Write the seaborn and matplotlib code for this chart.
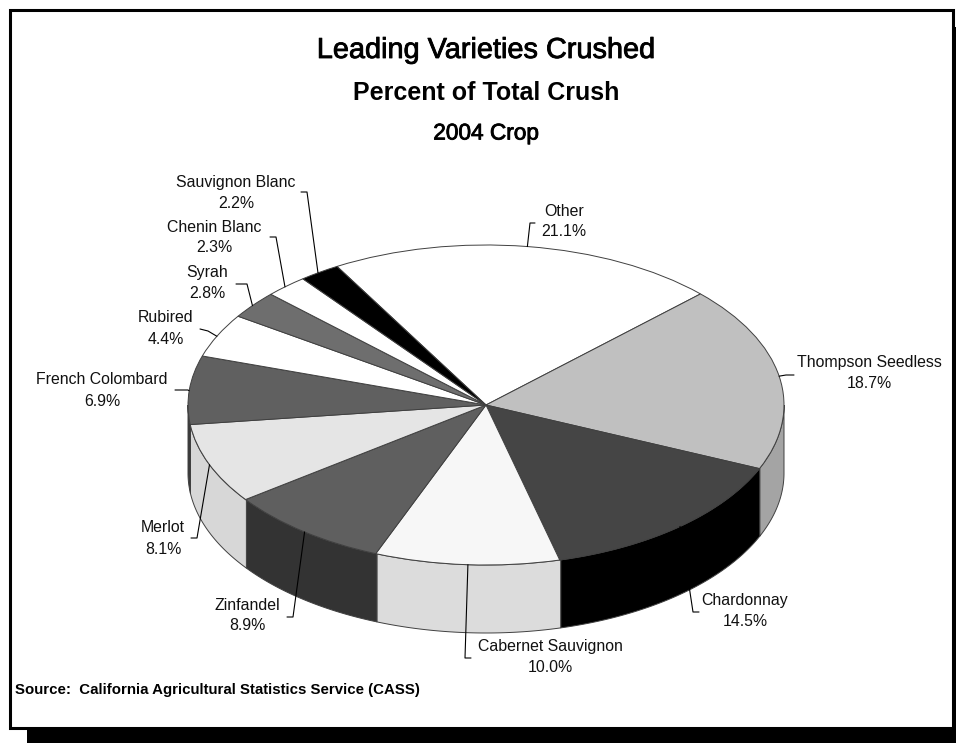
"""
Leading varieties crushed, 2004 crop - 3D-style pie chart
"""
import numpy as np
import matplotlib
matplotlib.use('Agg')
import matplotlib.pyplot as plt
import matplotlib.patheffects as pe
from matplotlib.patches import Rectangle, Polygon
import seaborn as sns

# data, in drawing order (clockwise from the top)
varieties = ['Other', 'Thompson Seedless', 'Chardonnay', 'Cabernet Sauvignon',
             'Zinfandel', 'Merlot', 'French Colombard', 'Rubired', 'Syrah',
             'Chenin Blanc', 'Sauvignon Blanc']
shares = [21.1, 18.7, 14.5, 10.0, 8.9, 8.1, 6.9, 4.4, 2.8, 2.3, 2.2]

# styles
top_colors = ['#ffffff', '#c0c0c0', '#454545', '#f7f7f7', '#5f5f5f', '#e5e5e5',
              '#606060', '#ffffff', '#6e6e6e', '#ffffff', '#000000']
side_colors = ['#dcdcdc', '#a4a4a4', '#000000', '#dcdcdc', '#333333', '#d7d7d7',
               '#3a3a3a', '#dcdcdc', '#4a4a4a', '#dcdcdc', '#000000']

# label layout in pixels: text centre (x, y of first line), leader elbow, leader end
label_pos = [(564, 211), (869, 363), (745, 600), (550, 647), (247, 605), (163, 528),
             (102, 380), (166, 318), (207, 273), (214, 227), (236, 182)]
leader_elbow = [(530, 223), (786, 375), (693, 612), (465, 658), (293, 617), (197, 538),
                (188, 390), (208, 331), (247, 284), (276, 237), (307, 192)]
leader_end = [(535, 223), (794, 375), (699, 612), (471, 658), (287, 617), (191, 538),
              (175, 390), (200, 329), (236, 284), (270, 237), (301, 192)]

W, H = 956, 743
CX, CY, RX, RY = 486, 405, 298, 160
DEPTH = 68 / RY
START = 120

sns.set_theme(style='white')
plt.rcParams['font.family'] = ['Liberation Sans', 'DejaVu Sans']
plt.rcParams['text.color'] = 'black'


def px(x, y):
    # pixel position -> pie data coords (unit radius ellipse)
    return (x - CX) / RX, (CY - y) / RY


fig = plt.figure(figsize=(W / 100, H / 100), dpi=100)
ax = fig.add_axes([0, 0, 1, 1])

# side walls of the front half
edges = START - np.cumsum([0] + shares) * 3.6
for i in range(len(shares)):
    hi = min(edges[i], 0)
    lo = max(edges[i + 1], -180)
    if hi <= lo:
        continue
    t = np.radians(np.linspace(hi, lo, 60))
    top = np.column_stack([np.cos(t), np.sin(t)])
    bot = np.column_stack([np.cos(t), np.sin(t) - DEPTH])[::-1]
    ax.add_patch(Polygon(np.vstack([top, bot]), closed=True, facecolor=side_colors[i],
                         edgecolor='#404040', linewidth=0.7, zorder=1))

# top face
wedges, _ = ax.pie(shares, startangle=START, counterclock=False, colors=top_colors,
                   wedgeprops=dict(edgecolor='#404040', linewidth=0.7))
for w in wedges:
    w.set_zorder(2)

ax.set_aspect('auto')
ax.set_xlim(px(0, 0)[0], px(W, 0)[0])
ax.set_ylim(px(0, H)[1], px(0, 0)[1])
ax.axis('off')

# leader lines and labels
mids = np.radians((edges[:-1] + edges[1:]) / 2)
for i, name in enumerate(varieties):
    anchor = (np.cos(mids[i]), np.sin(mids[i]))
    pts = [anchor, px(*leader_elbow[i]), px(*leader_end[i])]
    ax.plot([p[0] for p in pts], [p[1] for p in pts], color='black', lw=0.8, zorder=3)
    lx, ly = label_pos[i]
    ax.text(*px(lx, ly), name, ha='center', va='center', fontsize=11.4,
            color='#111111', zorder=4)
    ax.text(*px(lx, ly + 21), f'{shares[i]:.1f}%', ha='center', va='center',
            fontsize=11.4, color='#111111', zorder=4)

# titles
heavy = [pe.withStroke(linewidth=0.6, foreground='black')]
ax.text(*px(486, 50), 'Leading Varieties Crushed', ha='center', va='center',
        fontsize=20.8, color='black', path_effects=heavy)
ax.text(*px(486, 93), 'Percent of Total Crush', ha='center', va='center', fontsize=18,
        fontweight='bold', color='black')
ax.text(*px(486, 133), '2004 Crop', ha='center', va='center', fontsize=16.3,
        color='black', path_effects=heavy)
ax.text(*px(15, 690), 'Source:  California Agricultural Statistics Service (CASS)',
        ha='left', va='center', fontsize=10.8, fontweight='bold', color='black')

# frame and drop shadow
x0, y0 = px(9.5, 9.5)
x1, y1 = px(952.5, 727.5)
ax.add_patch(Rectangle((x0, y1), x1 - x0, y0 - y1, fill=False, edgecolor='black',
                       linewidth=2.2, zorder=5))
sx0, sy0 = px(27, 729)
sx1, sy1 = px(960, 750)
ax.add_patch(Rectangle((sx0, sy1), sx1 - sx0, sy0 - sy1, facecolor='black', edgecolor='none',
                       zorder=5, clip_on=False))
rx0, ry0 = px(953, 27)
rx1, ry1 = px(960, 750)
ax.add_patch(Rectangle((rx0, ry1), rx1 - rx0, ry0 - ry1, facecolor='black', edgecolor='none',
                       zorder=5, clip_on=False))

fig.savefig('out.png', dpi=100, facecolor='white')
